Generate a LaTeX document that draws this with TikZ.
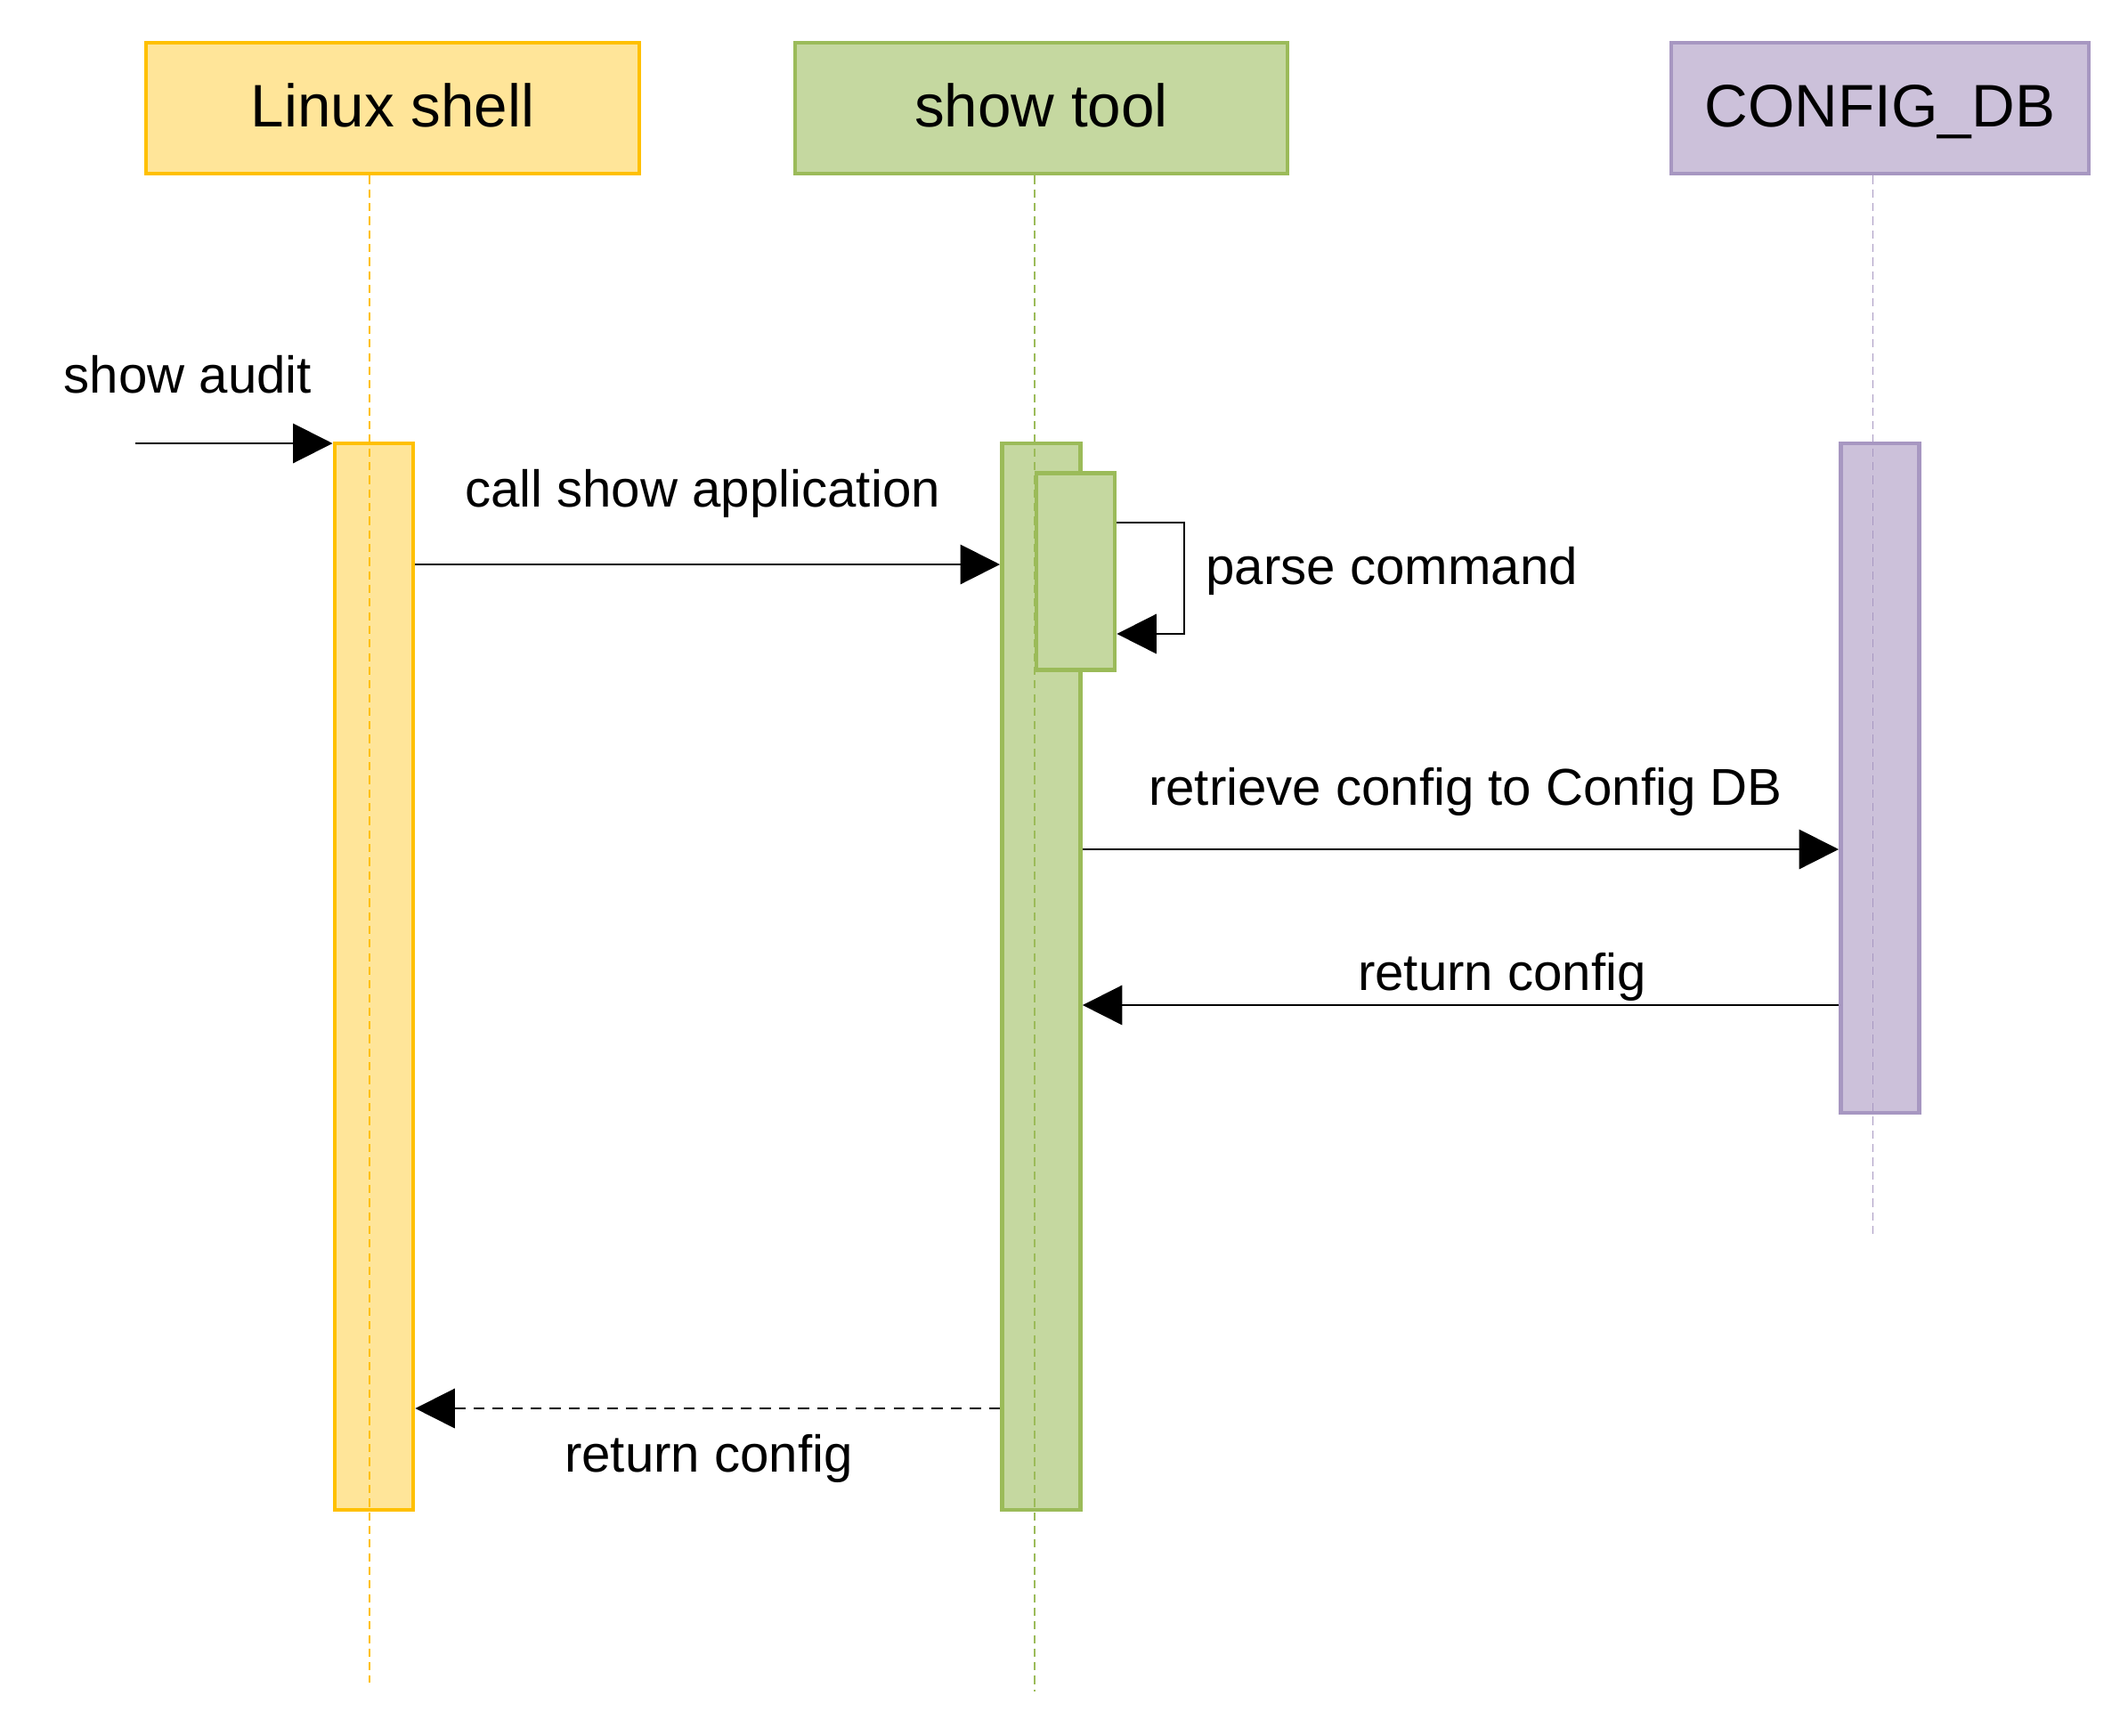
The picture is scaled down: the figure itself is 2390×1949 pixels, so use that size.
\documentclass[tikz,border=0pt]{standalone}
\usepackage{fontspec}
\setmainfont{Liberation Sans}
\usetikzlibrary{arrows.meta}
\newcommand\pxu{0.3264pt}
\definecolor{shfill}{HTML}{FFE599}
\definecolor{shline}{HTML}{FFC000}
\definecolor{tlfill}{HTML}{C5D8A0}
\definecolor{tlline}{HTML}{9BBB59}
\definecolor{dbfill}{HTML}{CCC1DA}
\definecolor{dbline}{HTML}{A797C1}
\begin{document}
\begin{tikzpicture}[x=0.3264pt,y=-0.3264pt,
  head/.style={draw,line width=1.6pt,anchor=north west,inner sep=0pt,minimum height=147*\pxu,
    text height=16pt,text depth=2pt,font=\fontsize{22}{26}\selectfont},
  bar/.style={draw,line width=1.6pt,anchor=north west,inner sep=0pt,minimum width=88*\pxu},
  life/.style={line width=0.5pt,dash pattern=on 3pt off 2pt},
  msg/.style={line width=0.65pt,-{Triangle[length=14.5pt,width=14.5pt]}},
  lbl/.style={anchor=base,inner sep=0pt,font=\fontsize{19}{23}\selectfont}]
\useasboundingbox (0,0) rectangle (2390,1949);

% heads
\node[head,fill=shfill,draw=shline,minimum width=554*\pxu] (shell) at (161.5,45.5) {Linux shell};
\node[head,fill=tlfill,draw=tlline,minimum width=553*\pxu] (tool) at (890.5,45.5) {show tool};
\node[head,fill=dbfill,draw=dbline,minimum width=469*\pxu] (db) at (1874.5,45.5) {CONFIG\_DB};

% activations
\node[bar,fill=shfill,draw=shline,minimum height=1198*\pxu] (shbar) at (373.5,495.5) {};
\node[bar,fill=tlfill,draw=tlline,minimum height=1198*\pxu] (tlbar) at (1123,495.5) {};
\node[bar,fill=dbfill,draw=dbline,minimum height=752*\pxu] (dbbar) at (2065,495.5) {};

% lifelines
\coordinate (shend) at (415,1890);
\coordinate (tlend) at (1162,1900);
\coordinate (dbend) at (2103.5,1390);
\draw[life,draw=shline] (shell.south -| shend) -- (shend);
\draw[life,draw=tlline] (tool.south -| tlend) -- (tlend);
\draw[life,draw=dbline] (db.south -| dbend) -- (dbend);

\node[bar,fill=tlfill,draw=tlline,minimum height=221*\pxu] (tlsub) at (1161.5,529) {};

% messages
\coordinate (audit) at (151.7,498);
\draw[msg] (audit) -- (audit -| shbar.west);
\node[lbl] (lblaudit) at (211,441.5) {show audit};

\coordinate (ycall) at (0,634);
\draw[msg] (shbar.east |- ycall) -- (tlbar.west |- ycall);
\node[lbl] (lblcall) at (789,569) {call show application};

\coordinate (yparse) at (0,587);
\coordinate (yback) at (0,712);
\draw[msg] (tlsub.east |- yparse) -- ++(76,0) |- (tlsub.east |- yback);
\node[lbl,anchor=base west] (lblparse) at (1354,656) {parse command};

\coordinate (yget) at (0,954);
\draw[msg] (tlbar.east |- yget) -- (dbbar.west |- yget);
\node[lbl] (lblget) at (1646,904) {retrieve config to Config DB};

\coordinate (yret) at (0,1129);
\draw[msg] (dbbar.west |- yret) -- (tlbar.east |- yret);
\node[lbl] (lblret) at (1687,1112) {return config};

\coordinate (yend) at (0,1582);
\draw[msg,dash pattern=on 4pt off 3pt] (tlbar.west |- yend) -- (shbar.east |- yend);
\node[lbl] (lblend) at (796,1653) {return config};
\end{tikzpicture}
\end{document}
